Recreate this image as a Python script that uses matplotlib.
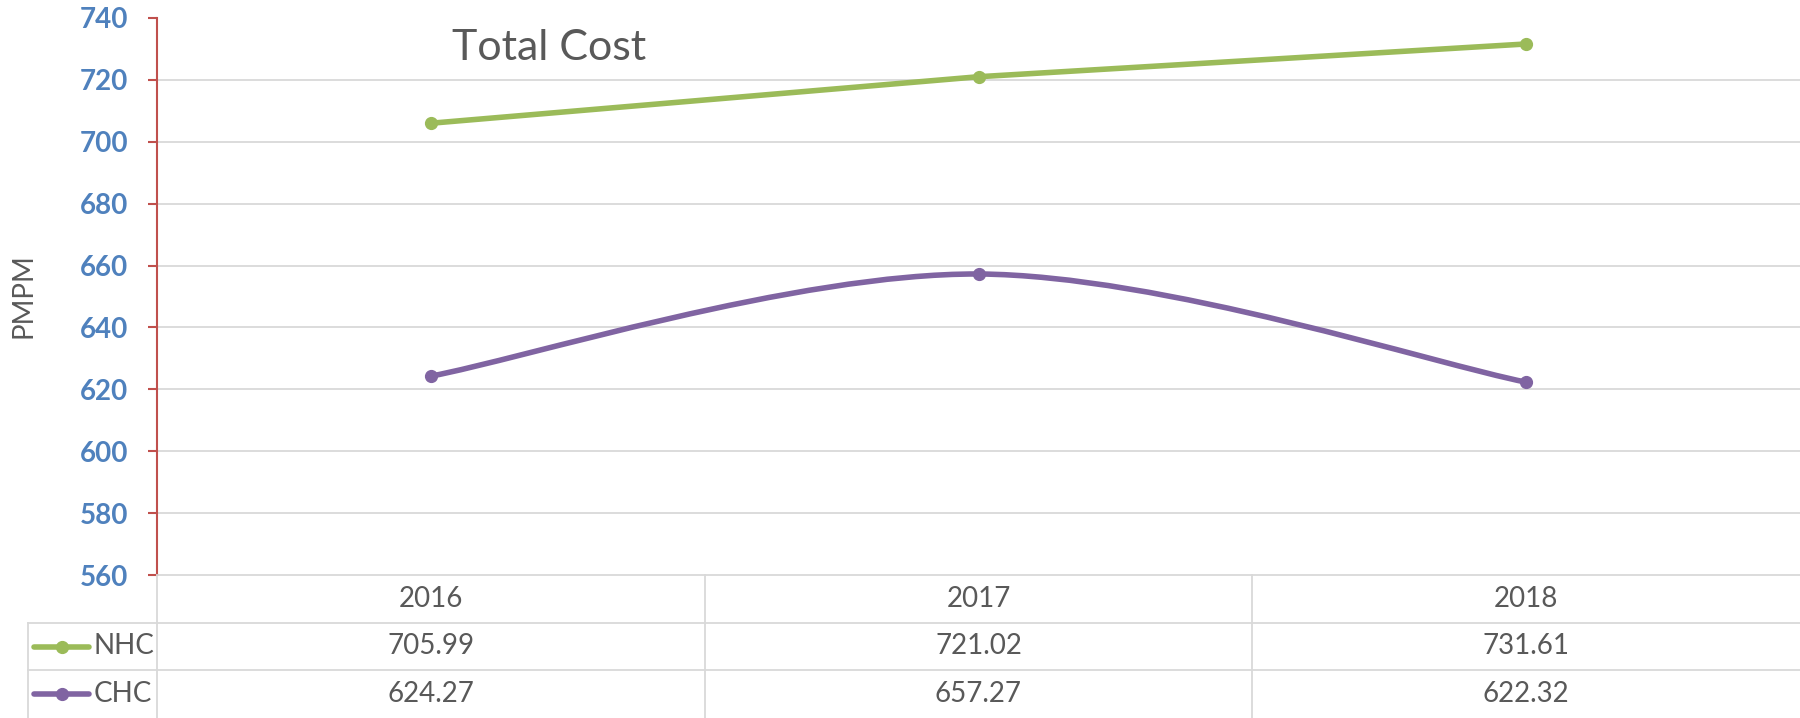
import matplotlib
matplotlib.use("Agg")
import matplotlib.pyplot as plt
from matplotlib.path import Path
from matplotlib.patches import PathPatch

plt.rcParams["font.family"] = ["Lato", "DejaVu Sans"]

# data
years = ["2016", "2017", "2018"]
series_names = ["NHC", "CHC"]
nhc = [705.99, 721.02, 731.61]
chc = [624.27, 657.27, 622.32]
y_ticks = [560, 580, 600, 620, 640, 660, 680, 700, 720, 740]

GREEN = "#9BBB59"
PURPLE = "#8064A2"
BLUE = "#4F81BD"
RED = "#C0504D"
GRID = "#D9D9D9"
TEXT = "#595959"

W, H = 1800, 718
fig = plt.figure(figsize=(W / 100, H / 100), dpi=100)
L = 157 / W
B = 1 - 575 / H          # bottom of plot area (top of table)
T = 1 - 18 / H           # top of plot area
ax = fig.add_axes([L, B, 1 - L, T - B])

xs = list(range(len(years)))


def smooth_path(x, y):
    # Excel-style smoothed line: cubic Bezier through the points
    verts = [(x[0], y[0])]
    codes = [Path.MOVETO]
    n = len(x)
    for i in range(n - 1):
        x0, y0 = (x[i - 1], y[i - 1]) if i > 0 else (x[i], y[i])
        x3, y3 = (x[i + 2], y[i + 2]) if i + 2 < n else (x[i + 1], y[i + 1])
        c1 = (x[i] + (x[i + 1] - x0) / 6, y[i] + (y[i + 1] - y0) / 6)
        c2 = (x[i + 1] - (x3 - x[i]) / 6, y[i + 1] - (y3 - y[i]) / 6)
        verts += [c1, c2, (x[i + 1], y[i + 1])]
        codes += [Path.CURVE4] * 3
    return Path(verts, codes)


for t in y_ticks[:-1]:
    ax.axhline(t, color=GRID, lw=1.3, zorder=1, clip_on=False)

ax.plot(xs, nhc, color=GREEN, lw=4, marker="o", ms=8.5,
        solid_capstyle="round", zorder=3)
ax.add_patch(PathPatch(smooth_path(xs, chc), fill=False, edgecolor=PURPLE,
                       lw=4, capstyle="round", zorder=3))
ax.plot(xs, chc, ls="none", color=PURPLE, marker="o", ms=8.5, zorder=4)

ax.set_xlim(-0.5, len(years) - 0.5)
ax.set_ylim(y_ticks[0], y_ticks[-1])
ax.set_yticks(y_ticks)
ax.set_xticks([])
for s in ["top", "right", "bottom"]:
    ax.spines[s].set_visible(False)
ax.spines["left"].set_color(RED)
ax.spines["left"].set_linewidth(1.5)
ax.spines["left"].set_zorder(5)
ax.tick_params(axis="y", direction="out", length=6.5, width=1.5, color=RED,
               labelcolor=BLUE, labelsize=20, pad=14)
for lab in ax.get_yticklabels():
    lab.set_fontweight("bold")

fig.text(23 / W, 1 - 296 / H, "PMPM", rotation=90, ha="center", va="center",
         color=TEXT, fontsize=20)
fig.text(549 / W, 1 - 48 / H, "Total Cost", ha="center", va="center",
         color=TEXT, fontsize=31)

# data table under the plot
tab = fig.add_axes([L, 0, 1 - L, B])
tab.set_xlim(-0.5, len(years) - 0.5)
tab.set_ylim(3, 0)
tab.axis("off")
px = 1 / (W - 157)  # one pixel in table-axes fraction
left_edge = -129 * px
ytr = tab.get_yaxis_transform()
for r in [1, 2]:
    tab.plot([left_edge, 1], [r, r], color=GRID, lw=1.3, transform=ytr, clip_on=False)
for c in range(len(years)):
    tab.plot([c - 0.5, c - 0.5], [0, 3], color=GRID, lw=1.3, clip_on=False)
tab.plot([left_edge, left_edge], [1, 3], color=GRID, lw=1.3, transform=ytr, clip_on=False)

for i, yr in enumerate(years):
    tab.text(i, 0.5, yr, ha="center", va="center", color=TEXT, fontsize=20)
for r, (name, vals, col) in enumerate(zip(series_names, [nhc, chc], [GREEN, PURPLE])):
    yrow = r + 1.5
    for i, v in enumerate(vals):
        tab.text(i, yrow, f"{v:.2f}", ha="center", va="center", color=TEXT, fontsize=20)
    tab.plot([-123 * px, -68 * px], [yrow, yrow], color=col, lw=4,
             solid_capstyle="round", transform=ytr, clip_on=False)
    tab.plot([-95 * px], [yrow], "o", color=col, ms=8.5, transform=ytr, clip_on=False)
    tab.text(-63 * px, yrow, name, ha="left", va="center", color=TEXT,
             fontsize=20, transform=ytr)

fig.savefig("out.png", dpi=100)
